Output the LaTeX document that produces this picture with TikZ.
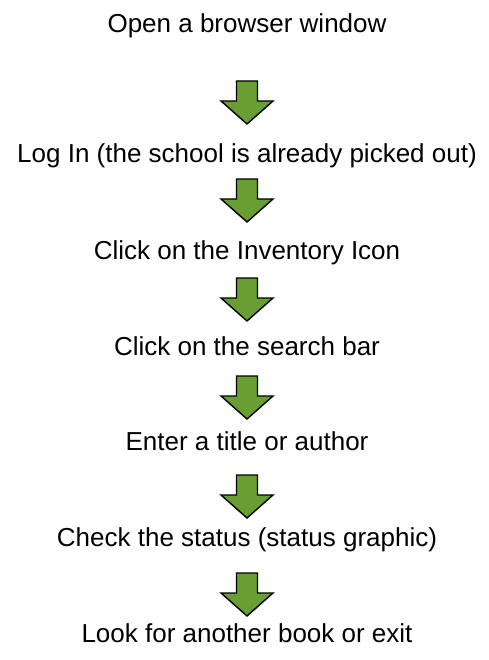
\documentclass[tikz,border=0pt]{standalone}
\usepackage{fontspec}
\setmainfont{Liberation Sans}
\definecolor{arrgreen}{RGB}{104,158,50}
\tikzset{
  steptext/.style={anchor=base, inner sep=0pt, font=\fontsize{26}{31}\selectfont, text=black},
  blockarr/.pic={\draw[line width=1.4pt, fill=arrgreen, line join=miter]
     (-10.5pt,0pt) -- (10.5pt,0pt) -- (10.5pt,-20pt) -- (26pt,-20pt) -- (0pt,-43pt)
     -- (-26pt,-20pt) -- (-10.5pt,-20pt) -- cycle;}
}
\begin{document}
\begin{tikzpicture}
\useasboundingbox (0pt,0pt) rectangle (488pt,-660pt);
\node[steptext] (s1) at (247pt,-33pt) {Open a browser window};
\node[steptext] (s2) at (247pt,-163pt) {Log In (the school is already picked out)};
\node[steptext] (s3) at (247pt,-259pt) {Click on the Inventory Icon};
\node[steptext] (s4) at (247pt,-355pt) {Click on the search bar};
\node[steptext] (s5) at (247pt,-450pt) {Enter a title or author};
\node[steptext] (s6) at (247pt,-546pt) {Check the status (status graphic)};
\node[steptext] (s7) at (247pt,-642pt) {Look for another book or exit};
\pic at (247pt,-81pt) {blockarr};
\pic at (247pt,-179pt) {blockarr};
\pic at (247pt,-278pt) {blockarr};
\pic at (247pt,-376pt) {blockarr};
\pic at (247pt,-475pt) {blockarr};
\pic at (247pt,-573pt) {blockarr};
\end{tikzpicture}
\end{document}
